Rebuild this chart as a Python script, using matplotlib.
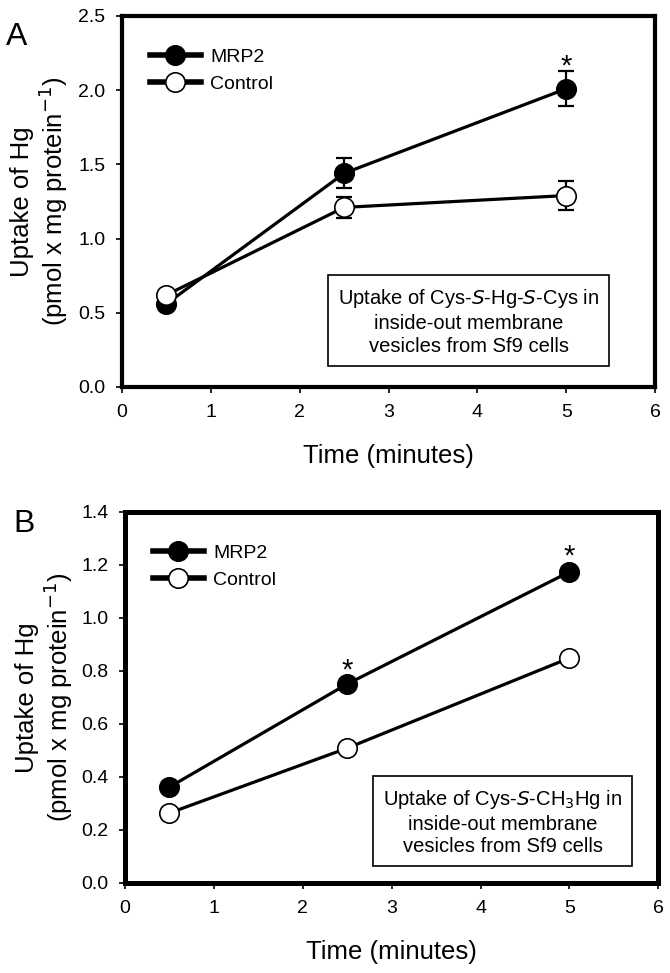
import matplotlib.pyplot as plt

plt.rcParams['font.family'] = ['Liberation Sans', 'DejaVu Sans']

# -----------------------------
# Data
# -----------------------------
time_min = [0.5, 2.5, 5.0]

# Panel A: Cys-S-Hg-S-Cys
a_mrp2 = [0.56, 1.44, 2.01]
a_mrp2_err = [0.02, 0.10, 0.12]
a_ctrl = [0.62, 1.21, 1.29]
a_ctrl_err = [0.02, 0.07, 0.10]
a_stars = [(5.0, 2.16)]

# Panel B: Cys-S-CH3Hg
b_mrp2 = [0.362, 0.751, 1.174]
b_mrp2_err = [0.02, 0.02, 0.02]
b_ctrl = [0.264, 0.509, 0.849]
b_ctrl_err = [0.02, 0.02, 0.02]
b_stars = [(2.5, 0.80), (5.0, 1.23)]

x_ticks = [0, 1, 2, 3, 4, 5, 6]
a_yticks = [0.0, 0.5, 1.0, 1.5, 2.0, 2.5]
b_yticks = [0.0, 0.2, 0.4, 0.6, 0.8, 1.0, 1.2, 1.4]

a_note = "Uptake of Cys-$\\mathit{S}$-Hg-$\\mathit{S}$-Cys in\ninside-out membrane\nvesicles from Sf9 cells"
b_note = "Uptake of Cys-$\\mathit{S}$-CH$_3$Hg in\ninside-out membrane\nvesicles from Sf9 cells"

ylabel = "Uptake of Hg\n(pmol x mg protein$^{-1}$)"


def draw_panel(ax, mrp2, mrp2_err, ctrl, ctrl_err, stars, yticks, ymax,
               note, note_xy, spine_w, ylab_x):
    # error bars first, then lines + markers on top
    for vals, errs in [(mrp2, mrp2_err), (ctrl, ctrl_err)]:
        ax.errorbar(time_min, vals, yerr=errs, fmt="none", ecolor="black",
                    elinewidth=1.6, capsize=6, capthick=1.6, zorder=2)
    ax.plot(time_min, mrp2, color="black", lw=2.3, marker="o", ms=14,
            mfc="black", mec="black", mew=1.2, label="MRP2", zorder=3)
    ax.plot(time_min, ctrl, color="black", lw=2.3, marker="o", ms=14,
            mfc="white", mec="black", mew=1.2, label="Control", zorder=4)
    for sx, sy in stars:
        ax.text(sx, sy, "*", ha="center", va="center", fontsize=21)

    ax.set_xlim(0, 6)
    ax.set_ylim(0, ymax)
    ax.set_xticks(x_ticks)
    ax.set_yticks(yticks)
    ax.set_yticklabels([f"{v:.1f}" for v in yticks])
    ax.tick_params(direction="out", length=4, width=1.2, labelsize=14,
                   top=False, right=False, pad=8)
    for s in ax.spines.values():
        s.set_linewidth(spine_w)

    ax.set_xlabel("Time (minutes)", fontsize=18.5, labelpad=17)
    ax.set_ylabel(ylabel, fontsize=18.5, linespacing=1.1, va="center")
    ax.yaxis.set_label_coords(ylab_x, 0.5)

    leg = ax.legend(loc="upper left", bbox_to_anchor=(0.02, 0.96),
                    frameon=False, fontsize=14, handlelength=2.6,
                    handletextpad=0.5, labelspacing=0.5)
    for h in leg.legend_handles:
        h.set_linewidth(4)

    ax.text(note_xy[0], note_xy[1], note, transform=ax.transData,
            ha="center", va="center", fontsize=14.5, linespacing=1.25,
            bbox=dict(boxstyle="square,pad=0.5", fc="white", ec="black", lw=1.2))


fig = plt.figure(figsize=(6.7, 9.73), dpi=100)
ax_a = fig.add_axes([0.182, 0.6023, 0.796, 0.3813])
ax_b = fig.add_axes([0.1866, 0.0925, 0.796, 0.3813])

draw_panel(ax_a, a_mrp2, a_mrp2_err, a_ctrl, a_ctrl_err, a_stars,
           a_yticks, 2.5, a_note, (3.9, 0.44), 3.0, -0.154)
draw_panel(ax_b, b_mrp2, b_mrp2_err, b_ctrl, b_ctrl_err, b_stars,
           b_yticks, 1.4, b_note, (4.25, 0.23), 3.6, -0.15)

fig.text(0.009, 0.977, "A", fontsize=23, va="top", ha="left")
fig.text(0.02, 0.477, "B", fontsize=23, va="top", ha="left")

fig.savefig("out.png", dpi=100)
